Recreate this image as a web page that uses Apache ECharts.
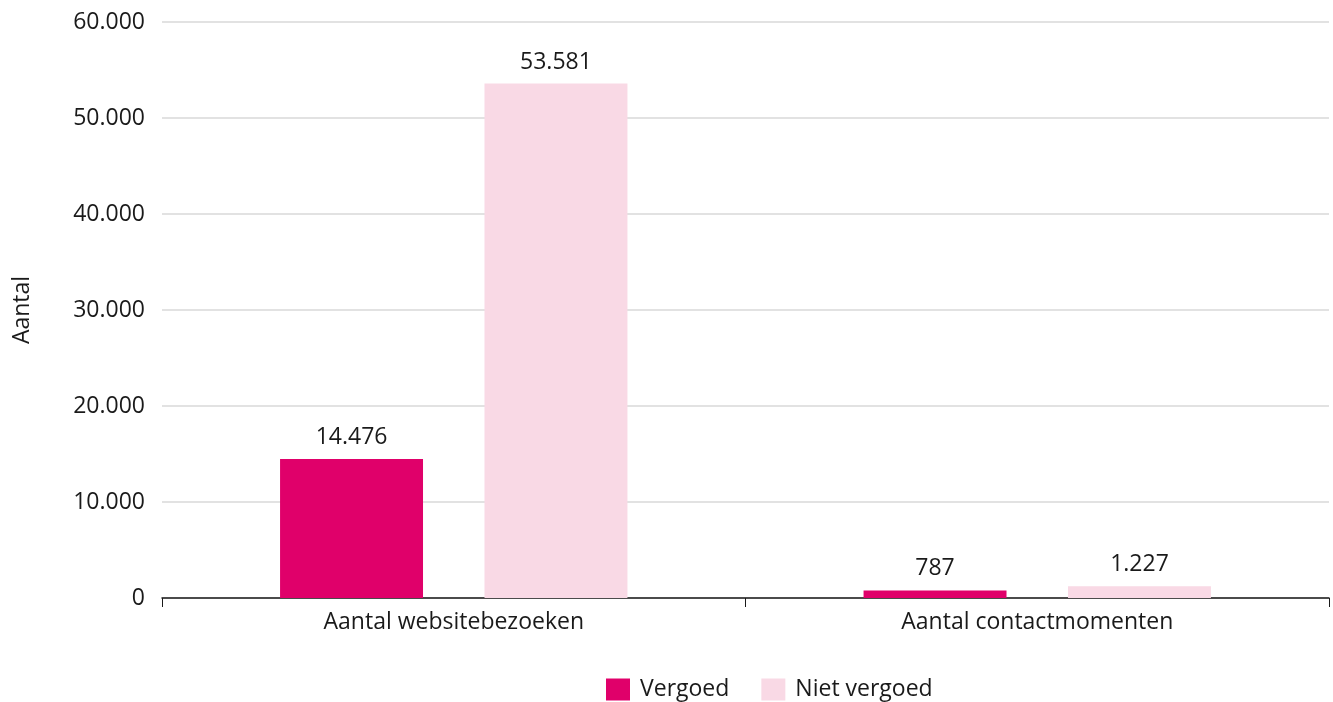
<!DOCTYPE html>
<html>
<head>
<meta charset="utf-8">
<script src="https://cdn.jsdelivr.net/npm/echarts@6/dist/echarts.min.js"></script>
<style>
  html, body { margin: 0; padding: 0; background: #fff; }
  #chart { width: 1333px; height: 702px; }
</style>
</head>
<body>
<div id="chart"></div>
<script>
const categories = ["Aantal websitebezoeken", "Aantal contactmomenten"];
const vergoed = [14476, 787];
const nietVergoed = [53581, 1227];
const seriesNames = ["Vergoed", "Niet vergoed"];

// thousands with a dot, Dutch style
function fmt(v) {
  return String(v).replace(/\B(?=(\d{3})+(?!\d))/g, ".");
}

const font = "'Open Sans', 'Noto Sans', sans-serif";
const chart = echarts.init(document.getElementById("chart"));

chart.setOption({
  animation: false,
  textStyle: { fontFamily: font },
  grid: { left: 162, right: 4, top: 22, bottom: 104, outerBoundsMode: "none" },
  legend: {
    data: seriesNames,
    top: 673,
    left: 601,
    itemWidth: 24,
    itemHeight: 22,
    itemGap: 32,
    icon: "rect",
    textStyle: { fontSize: 23, color: "#1a1a1a", fontFamily: font, padding: [0, 0, 0, 5] }
  },
  xAxis: {
    type: "category",
    data: categories,
    axisLine: { lineStyle: { color: "#1a1a1a", width: 1.5 } },
    axisTick: { show: true, length: 9, lineStyle: { color: "#1a1a1a" } },
    axisLabel: { fontSize: 23, color: "#1a1a1a", margin: 13, fontFamily: font }
  },
  yAxis: {
    type: "value",
    min: 0,
    max: 60000,
    interval: 10000,
    name: "Aantal",
    nameLocation: "middle",
    nameGap: 128,
    nameTextStyle: { fontSize: 23, color: "#1a1a1a", fontFamily: font },
    axisLine: { show: false },
    axisTick: { show: false },
    splitLine: { lineStyle: { color: "#d9d9d9", width: 1.5 } },
    axisLabel: {
      fontSize: 23,
      color: "#1a1a1a",
      margin: 17,
      fontFamily: font,
      formatter: fmt
    }
  },
  series: [
    {
      name: seriesNames[0],
      type: "bar",
      data: vergoed,
      barWidth: "24.5%",
      barGap: "43%",
      itemStyle: { color: "#e0006a" },
      label: {
        show: true,
        position: "top",
        distance: 10,
        fontSize: 23,
        color: "#1a1a1a",
        fontFamily: font,
        formatter: p => fmt(p.value)
      }
    },
    {
      name: seriesNames[1],
      type: "bar",
      data: nietVergoed,
      barWidth: "24.5%",
      itemStyle: { color: "#f9d9e5" },
      label: {
        show: true,
        position: "top",
        distance: 10,
        fontSize: 23,
        color: "#1a1a1a",
        fontFamily: font,
        formatter: p => fmt(p.value)
      }
    }
  ]
});
</script>
</body>
</html>
